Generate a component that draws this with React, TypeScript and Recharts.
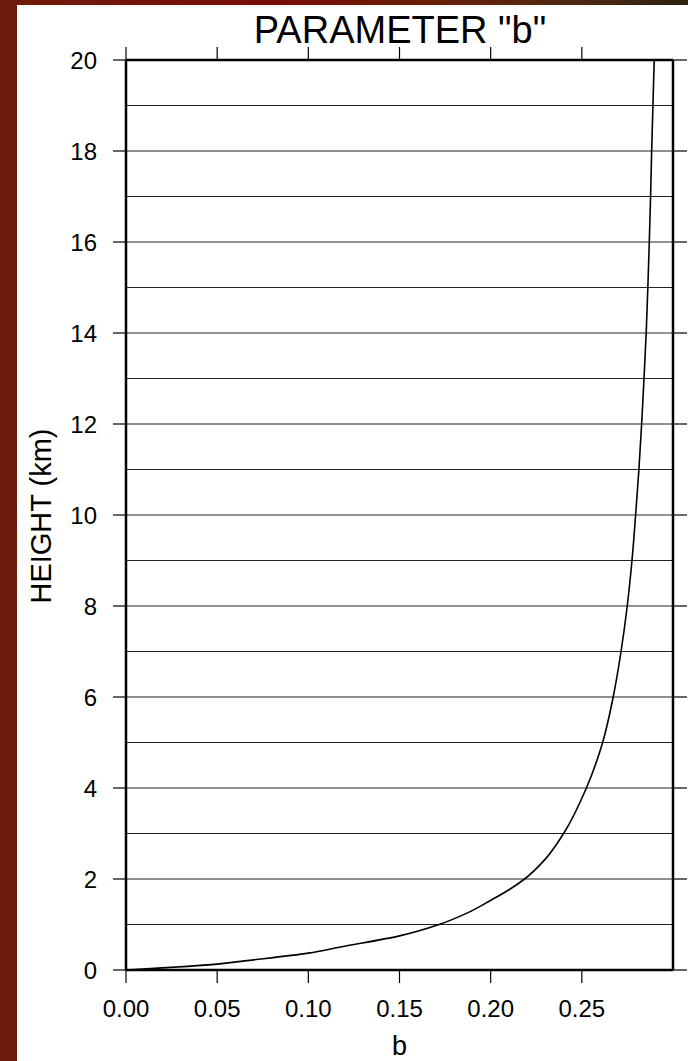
import React from 'react';
import { LineChart, Line, XAxis, YAxis, ReferenceLine } from 'recharts';

// height above ground (km) and the parameter b
const heightKm = [0, 0.13, 0.2, 0.37, 0.5, 0.75, 1, 1.25, 1.54, 1.77, 2, 2.42, 3, 4, 5, 6, 7, 8, 9, 10, 11, 12, 13, 14, 15, 16, 17, 18, 19, 20];
const bValues = [0, 0.05, 0.065, 0.1, 0.117, 0.15, 0.1717, 0.187, 0.2004, 0.2103, 0.2186, 0.2296, 0.24, 0.2525, 0.2614, 0.2672, 0.2715, 0.2749, 0.2775, 0.2795, 0.2813, 0.2828, 0.2841, 0.2853, 0.2862, 0.287, 0.2877, 0.2883, 0.289, 0.2897];

const yTicks = [0, 2, 4, 6, 8, 10, 12, 14, 16, 18, 20];
const gridValues = [1, 2, 3, 4, 5, 6, 7, 8, 9, 10, 11, 12, 13, 14, 15, 16, 17, 18, 19];
const xTicks = [0, 0.05, 0.1, 0.15, 0.2, 0.25];

const chartTitle = 'PARAMETER "b"';
const xLabel = 'b';
const yLabel = 'HEIGHT (km)';

const FONT = '"Liberation Sans", Arial, Helvetica, sans-serif';

const NoLabel = () => <g />;

export default function App() {
  const data = heightKm.map((h, i) => ({ h, b: bValues[i] }));
  const tickStyle = { fill: '#000', fontSize: 24, fontFamily: FONT };
  const axisLine = { stroke: '#000', strokeWidth: 2.5 };
  const tickLine = { stroke: '#000', strokeWidth: 1.2 };

  return (
    <div style={{ position: 'absolute', left: 0, top: 0, width: 688, height: 1061, background: '#fff', overflow: 'hidden' }}>
      {/* slide frame */}
      <div style={{ position: 'absolute', left: 0, top: 0, width: 17, height: 1061, background: '#6e1c0a' }} />
      <div
        style={{
          position: 'absolute', left: 0, top: 0, width: 688, height: 5,
          background: 'linear-gradient(to right, #6e1c0a 0%, #7a0c06 40%, #6a1e08 62%, #4c2812 85%, #2e2010 100%)',
        }}
      />

      <div style={{ position: 'absolute', left: 0, top: 0 }}>
        <LineChart width={688} height={1061} layout="vertical" data={data} margin={{ top: 0, right: 0, bottom: 0, left: 0 }}>
          <XAxis
            type="number"
            dataKey="b"
            domain={[0, 0.3]}
            ticks={xTicks}
            interval={0}
            allowDataOverflow
            height={91}
            tickSize={13}
            tickMargin={17}
            tick={tickStyle}
            tickFormatter={(v: number) => v.toFixed(2)}
            axisLine={axisLine}
            tickLine={tickLine}
          />
          <XAxis
            xAxisId="top"
            orientation="top"
            type="number"
            dataKey="b"
            domain={[0, 0.3]}
            ticks={xTicks}
            interval={0}
            allowDataOverflow
            height={60}
            tickSize={13}
            tick={<NoLabel />}
            axisLine={axisLine}
            tickLine={tickLine}
          />
          <YAxis
            type="number"
            dataKey="h"
            domain={[0, 20]}
            ticks={yTicks}
            interval={0}
            reversed
            allowDataOverflow
            width={126}
            tickSize={13}
            tickMargin={16}
            tick={tickStyle}
            axisLine={axisLine}
            tickLine={tickLine}
          />
          <YAxis
            yAxisId="right"
            orientation="right"
            type="number"
            dataKey="h"
            domain={[0, 20]}
            ticks={yTicks}
            interval={0}
            reversed
            allowDataOverflow
            width={15}
            tickSize={14}
            tick={<NoLabel />}
            axisLine={axisLine}
            tickLine={tickLine}
          />
          {gridValues.map((v) => (
            <ReferenceLine key={v} y={v} stroke="#222" strokeWidth={1} />
          ))}
          {/* invisible copy so the top and right axes get a series */}
          <Line
            xAxisId="top"
            yAxisId="right"
            type="monotone"
            dataKey="b"
            stroke="none"
            dot={false}
            activeDot={false}
            isAnimationActive={false}
          />
          <Line
            type="monotone"
            dataKey="b"
            stroke="#000"
            strokeWidth={1.6}
            dot={false}
            activeDot={false}
            isAnimationActive={false}
          />
        </LineChart>
      </div>

      {/* title and axis labels */}
      <svg width={688} height={1061} style={{ position: 'absolute', left: 0, top: 0, pointerEvents: 'none' }}>
        <text x={400} y={43} textAnchor="middle" fontSize={38} fontFamily={FONT} fill="#000">
          {chartTitle}
        </text>
        <text x={399.5} y={1055} textAnchor="middle" fontSize={27} fontFamily={FONT} fill="#000">
          {xLabel}
        </text>
        <text x={51} y={516} textAnchor="middle" fontSize={29} fontFamily={FONT} fill="#000" transform="rotate(-90, 51, 516)">
          {yLabel}
        </text>
      </svg>
    </div>
  );
}
